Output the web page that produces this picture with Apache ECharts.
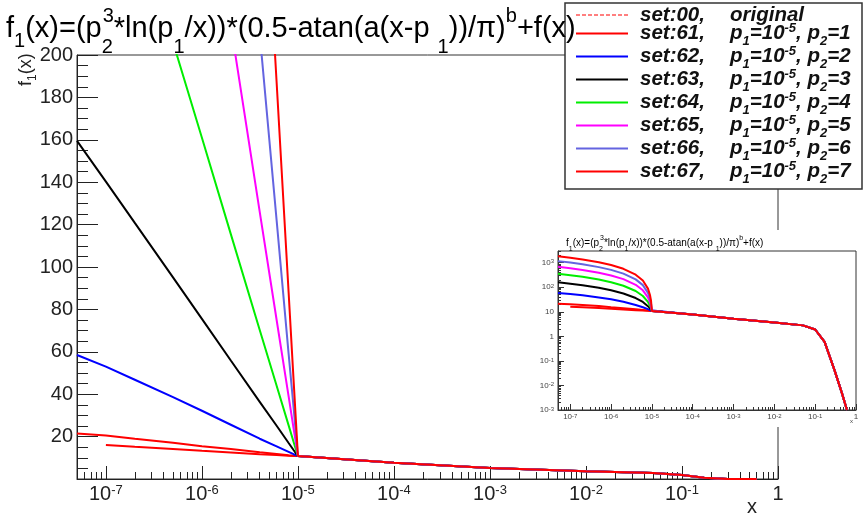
<!DOCTYPE html>
<html>
<head>
<meta charset="utf-8">
<script src="https://cdn.jsdelivr.net/npm/echarts@6/dist/echarts.min.js"></script>
<style>
html, body { margin: 0; padding: 0; background: #fff; }
#chart { width: 864px; height: 519px; }
</style>
</head>
<body>
<div id="chart"></div>
<script>
var xHead = [5e-8, 1e-7, 2e-7, 5e-7, 1e-6, 2e-6, 4e-6, 6e-6, 8e-6, 9e-6, 9.5e-6, 1e-5];
var xTail = [1e-4, 1e-3, 1e-2, 0.05, 0.1, 0.17, 0.3, 0.45, 0.6];
// common tail f(x) above p1
var fTail = [7.7, 5.2, 3.7, 2.8, 1.9, 0.6, 0.04, 0.005, 0.001];

// set:00 original
var origX = [1e-7, 2e-7, 5e-7, 1e-6, 2e-6, 4e-6, 6e-6, 8e-6, 1e-5];
var origY = [16, 15.2, 14.2, 13.3, 12.5, 11.7, 11.3, 11.0, 10.8];

// set:61 .. set:67, values at xHead
var y61 = [21.5, 20.5, 19.0, 17.1, 15.5, 14.1, 12.6, 11.8, 11.2, 11.0, 10.9, 10.8];
var y62 = [58.5, 53, 46.8, 38.6, 32.2, 25.6, 19.0, 15.4, 12.8, 11.7, 11.3, 10.8];
var y63 = [159.5, 140.3, 120.8, 95.1, 75.5, 55.9, 36.4, 25.1, 17.0, 13.7, 12.2, 10.8];
var y64 = [355, 311, 266, 206, 161, 115.5, 70.3, 44, 25.3, 17.6, 14.1, 10.8];
var y65 = [679, 592, 504, 389, 301, 214, 126, 75, 39, 24, 17.3, 10.8];
var y66 = [1161, 1011, 860, 661, 511, 360, 210, 122, 59, 34, 22, 10.8];
var y67 = [1834, 1596, 1357, 1042, 803, 564, 326, 187, 88, 47, 28.5, 10.8];

var setNames = ['set:00', 'set:61', 'set:62', 'set:63', 'set:64', 'set:65', 'set:66', 'set:67'];
var setColors = ['#ff0000', '#ff0000', '#0000ff', '#000000', '#00ee00', '#ff00ff', '#6464e0', '#ff0000'];
var p2Values = ['', '1', '2', '3', '4', '5', '6', '7'];

// tick positions
var xMajor = [1e-7, 1e-6, 1e-5, 1e-4, 1e-3, 1e-2, 1e-1, 1];
var yInsetMajor = [1e-3, 1e-2, 1e-1, 1, 10, 100, 1000];

var FONT = 'Liberation Sans';

function minorTicks(lo, hi) {
    var out = [];
    for (var e = -9; e <= 3; e++) {
        for (var m = 2; m <= 9; m++) {
            var v = m * Math.pow(10, e);
            if (v >= lo * 0.999 && v <= hi * 1.001) out.push(v);
        }
    }
    return out;
}

function expLabel(v) {
    var l = Math.log10(v);
    var e = Math.round(l);
    if (Math.abs(l - e) > 1e-6) return '';
    if (e === 0) return '{b|1}';
    if (e === 1) return '{b|10}';
    return '{b|10}{s|' + e + '}';
}

function pairs(xs, ys) {
    return xs.map(function (x, i) { return [x, ys[i]]; });
}

var setData = [
    pairs(origX.concat(xTail), origY.concat(fTail)),
    pairs(xHead.concat(xTail), y61.concat(fTail)),
    pairs(xHead.concat(xTail), y62.concat(fTail)),
    pairs(xHead.concat(xTail), y63.concat(fTail)),
    pairs(xHead.concat(xTail), y64.concat(fTail)),
    pairs(xHead.concat(xTail), y65.concat(fTail)),
    pairs(xHead.concat(xTail), y66.concat(fTail)),
    pairs(xHead.concat(xTail), y67.concat(fTail))
];

var series = [];
setNames.forEach(function (name, i) {
    series.push({
        name: name, type: 'line', xAxisIndex: 0, yAxisIndex: 0,
        data: setData[i], showSymbol: false, symbol: 'none', z: 2,
        lineStyle: { color: setColors[i], width: 2 },
        itemStyle: { color: setColors[i] }
    });
});
setNames.forEach(function (name, i) {
    series.push({
        name: name, type: 'line', xAxisIndex: 2, yAxisIndex: 1,
        data: setData[i], showSymbol: false, symbol: 'none', z: 5,
        lineStyle: { color: setColors[i], width: 2 },
        itemStyle: { color: setColors[i] }
    });
});

// rich styles for the formula: n normal, sf/sb subscripts, sz stacked subscript, sp superscript
function richSet(base, small, lh, sfPad, sbPad, spPad) {
    var common = { fontFamily: FONT, color: '#000', fontWeight: 'normal' };
    return {
        n: Object.assign({ fontSize: base, lineHeight: lh, verticalAlign: 'middle' }, common),
        sf: Object.assign({ fontSize: small, lineHeight: small, verticalAlign: 'middle', padding: [sfPad, 0, 0, 0] }, common),
        sb: Object.assign({ fontSize: small, lineHeight: small, verticalAlign: 'bottom', padding: [0, 0, sbPad, 0] }, common),
        sz: Object.assign({ fontSize: small, lineHeight: small, verticalAlign: 'bottom', width: 1, padding: [0, 0, sbPad, 0] }, common),
        sp: Object.assign({ fontSize: small, lineHeight: small, verticalAlign: 'top', padding: [spPad, 0, 0, 0] }, common)
    };
}
var titleText = '{n|f}{sf|1}{n|(x)=(p}{sz|2}{sp|3}{n|*ln(p}{sb|1}{n|/x))*(0.5-atan(a(x-p }{sb|1}{n|))/π)}{sp|b}{n|+f(x)}';

var legFont = { fontWeight: 'bold', fontStyle: 'italic', fontFamily: FONT, color: '#111' };
var legendRich = {
    s: Object.assign({ fontSize: 20.5, lineHeight: 29, verticalAlign: 'middle', width: 90, padding: [0, 0, 0, 7] }, legFont),
    p: Object.assign({ fontSize: 20.5, lineHeight: 29, verticalAlign: 'middle' }, legFont),
    sb: Object.assign({ fontSize: 13, lineHeight: 13, verticalAlign: 'bottom' }, legFont),
    sp: Object.assign({ fontSize: 13, lineHeight: 13, verticalAlign: 'top', padding: [3, 0, 0, 0] }, legFont)
};

var dashIcon = 'path://';
for (var k = 0; k < 52; k += 6) dashIcon += 'M' + k + ',0h4v1h-4z';

var mainLabelRich = {
    b: { fontSize: 20, lineHeight: 20, verticalAlign: 'bottom', fontFamily: FONT, color: '#222' },
    s: { fontSize: 13, lineHeight: 13, verticalAlign: 'top', padding: [0, 0, 10, 0], fontFamily: FONT, color: '#222' }
};
var insetLabelRich = {
    b: { fontSize: 8, lineHeight: 8, verticalAlign: 'bottom', fontFamily: FONT, color: '#444' },
    s: { fontSize: 6, lineHeight: 6, verticalAlign: 'top', padding: [0, 0, 4, 0], fontFamily: FONT, color: '#444' }
};

var chart = echarts.init(document.getElementById('chart'), null, { renderer: 'canvas' });
chart.setOption({
    animation: false,
    backgroundColor: '#fff',
    title: [
        { text: titleText, left: 6, top: -5, padding: 0, z: 6,
          textStyle: { fontSize: 29, fontWeight: 'normal', fontFamily: FONT, color: '#000', rich: richSet(29, 20, 68, 25, 6, 11) } },
        { text: titleText, left: 566, top: 231, padding: 0, z: 6,
          textStyle: { fontSize: 10, fontWeight: 'normal', fontFamily: FONT, color: '#000', rich: richSet(10, 7, 23.5, 12, 2, 4) } }
    ],
    legend: {
        orient: 'vertical', left: 576, top: 5, padding: 0, itemGap: -6,
        itemWidth: 52, itemHeight: 2, icon: 'rect', z: 4,
        data: setNames.map(function (n, i) {
            var item = { name: n, itemStyle: { color: setColors[i] } };
            if (i === 0) item.icon = dashIcon;
            return item;
        }),
        formatter: function (name) {
            var i = setNames.indexOf(name);
            if (i === 0) return '{s|' + name + ',}{p|original}';
            return '{s|' + name + ',}{p|p}{sb|1}{p|=10}{sp|-5}{p|, p}{sb|2}{p|=' + p2Values[i] + '}';
        },
        textStyle: { rich: legendRich }
    },
    graphic: [
        { type: 'rect', z: 3, shape: { x: 565, y: 3, width: 297, height: 186 }, style: { fill: '#fff', stroke: '#333', lineWidth: 1.5 } },
        { type: 'rect', z: 3, shape: { x: 522, y: 230, width: 342, height: 197 }, style: { fill: '#fff' } },
        { type: 'text', z: 6, x: 26, y: 86, rotation: Math.PI / 2, style: {
            text: '{n|f}{sb|1}{n|(x)}', textVerticalAlign: 'middle',
            rich: {
                n: { fontSize: 18, fontFamily: FONT, fill: '#222', lineHeight: 26, verticalAlign: 'middle' },
                sb: { fontSize: 12, fontFamily: FONT, fill: '#222', lineHeight: 12, verticalAlign: 'bottom' }
            } } },
        { type: 'text', z: 6, x: 747, y: 497, style: { text: 'x', fontSize: 20, fontFamily: FONT, fill: '#222' } },
        { type: 'text', z: 6, x: 850, y: 418, style: { text: 'x', fontSize: 6, fontFamily: FONT, fill: '#444' } }
    ],
    grid: [
        { left: 77, right: 86, top: 55, bottom: 40, show: true, borderColor: '#333', borderWidth: 1, backgroundColor: 'transparent', z: 0 },
        { left: 558, right: 8, top: 251, bottom: 109, show: true, borderColor: '#333', borderWidth: 1, backgroundColor: 'transparent', z: 5 }
    ],
    xAxis: [
        { type: 'log', logBase: 10, gridIndex: 0, min: 5e-8, max: 1, position: 'bottom', z: 1,
          axisLine: { lineStyle: { color: '#222', width: 1 } },
          axisTick: { inside: true, length: 13, customValues: xMajor, lineStyle: { color: '#222' } },
          axisLabel: { customValues: xMajor, formatter: expLabel, margin: 5, rich: mainLabelRich },
          splitLine: { show: false } },
        { type: 'log', logBase: 10, gridIndex: 0, min: 5e-8, max: 1, position: 'bottom', z: 1,
          axisLine: { show: false },
          axisTick: { inside: true, length: 7, customValues: minorTicks(5e-8, 1), lineStyle: { color: '#222' } },
          axisLabel: { show: false }, splitLine: { show: false } },
        { type: 'log', logBase: 10, gridIndex: 1, min: 5e-8, max: 1, position: 'bottom', z: 5,
          axisLine: { lineStyle: { color: '#333', width: 1 } },
          axisTick: { inside: true, length: 6, customValues: xMajor, lineStyle: { color: '#333' } },
          axisLabel: { customValues: xMajor, formatter: expLabel, margin: 3, rich: insetLabelRich },
          splitLine: { show: false } },
        { type: 'log', logBase: 10, gridIndex: 1, min: 5e-8, max: 1, position: 'bottom', z: 5,
          axisLine: { show: false },
          axisTick: { inside: true, length: 3, customValues: minorTicks(5e-8, 1), lineStyle: { color: '#333' } },
          axisLabel: { show: false }, splitLine: { show: false } }
    ],
    yAxis: [
        { type: 'value', gridIndex: 0, min: 0, max: 200, interval: 20, position: 'left', z: 1,
          axisLine: { show: true, lineStyle: { color: '#222' } },
          axisTick: { show: true, inside: true, length: 21, lineStyle: { color: '#222' } },
          minorTick: { show: true, splitNumber: 4, length: 11, lineStyle: { color: '#222' } },
          axisLabel: { fontSize: 20, fontFamily: FONT, color: '#222', margin: 4, formatter: function (v) { return v === 0 ? '' : String(v); } },
          splitLine: { show: false }, minorSplitLine: { show: false } },
        { type: 'log', logBase: 10, gridIndex: 1, min: 1e-3, max: 3000, position: 'left', z: 5,
          axisLine: { show: true, lineStyle: { color: '#333' } },
          axisTick: { inside: true, length: 6, customValues: yInsetMajor, lineStyle: { color: '#333' } },
          axisLabel: { customValues: yInsetMajor, formatter: expLabel, margin: 4, rich: insetLabelRich },
          splitLine: { show: false } },
        { type: 'log', logBase: 10, gridIndex: 1, min: 1e-3, max: 3000, position: 'left', z: 5,
          axisLine: { show: false },
          axisTick: { inside: true, length: 3, customValues: minorTicks(1e-3, 3000), lineStyle: { color: '#333' } },
          axisLabel: { show: false }, splitLine: { show: false } }
    ],
    series: series
});
</script>
</body>
</html>
